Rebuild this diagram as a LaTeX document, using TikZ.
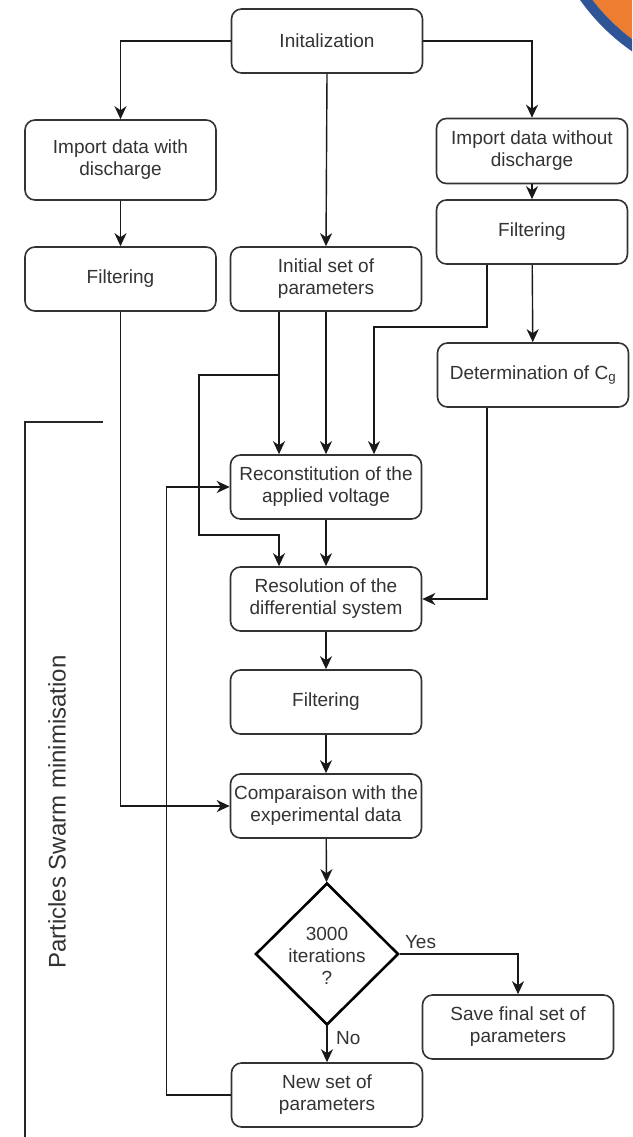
\documentclass[tikz,border=0pt]{standalone}
\usepackage{fontspec}
\setmainfont{Liberation Sans}
\usetikzlibrary{arrows.meta,shapes.geometric,calc}
\definecolor{arcorange}{HTML}{ED7D31}
\definecolor{arcblue}{HTML}{2F5597}
\definecolor{ink}{HTML}{333333}
\newcommand\boxfont{\fontsize{19}{22}\selectfont}
\tikzset{
  stepbox/.style={draw=ink, line width=1.6pt, rounded corners=10pt, minimum width=191pt,
    minimum height=64pt, align=center, font=\boxfont, text=ink, fill=white, inner sep=2pt},
  arr/.style={-{Stealth[length=13pt,width=12pt,inset=4pt]}, line width=1.4pt, draw=black!90},
  lbl/.style={font=\boxfont, text=ink, inner sep=1pt},
}
\begin{document}
\begin{tikzpicture}[x=1pt,y=-1pt]
\useasboundingbox (0,0) rectangle (632,1137);
\fill[white] (0,0) rectangle (632,1137);
% corner decoration
\begin{scope}
\clip (0,0) rectangle (632,1137);
\fill[arcorange] (750,-120) circle (198pt);
\draw[arcblue, line width=10pt] (750,-120) circle (203pt);
\end{scope}

% nodes
\node[stepbox] (init) at (327,41) {Initalization};
\node[stepbox, minimum height=80pt] (impw) at (120.5,160) {Import data with\\discharge};
\node[stepbox] (filtL) at (120.5,279) {Filtering};
\node[stepbox] (initset) at (326,279) {Initial set of\\parameters};
\node[stepbox, minimum height=65pt] (impwo) at (532,151) {Import data without\\discharge};
\node[stepbox] (filtR) at (532,232) {Filtering};
\node[stepbox] (detC) at (533,375) {Determination of C\textsubscript{g}};
\node[stepbox] (recon) at (326,487) {Reconstitution of the\\applied voltage};
\node[stepbox] (resol) at (326,599) {Resolution of the\\differential system};
\node[stepbox] (filtM) at (326,702) {Filtering};
\node[stepbox] (comp) at (326,806) {Comparaison with the\\experimental data};
\node[diamond, draw=black, line width=2.6pt, minimum width=143pt, minimum height=142pt, inner sep=0pt] (dec) at (327,954) {};
\node[lbl, align=center] (dectxt) at ([yshift=-2pt]dec.center) {3000\\iterations\\?};
\node[stepbox] (save) at (518,1027) {Save final set of\\parameters};
\node[stepbox] (newp) at (327,1095) {New set of\\parameters};

% connectors
\draw[arr] (init.west) -| (impw.north);
\draw[arr] (init.east) -| (impwo.north);
\draw[arr] (init.south) -- (initset.north);
\draw[arr] (impw) -- (filtL);
\draw[arr] (impwo) -- (filtR);
\draw[arr] (filtR) -- (detC);
\draw[arr] (filtL.south) |- (comp.west);
\draw[arr] ([xshift=-47pt]initset.south) -- ([xshift=-47pt]recon.north);
\draw[arr] (initset) -- (recon);
\coordinate (j1) at (279,375);
\draw[arr] (j1) -- (199,375) -- (199,535) -- (279,535) -- ([xshift=-47pt]resol.north);
\draw[arr] ([xshift=-45pt]filtR.south) -- (487,327) -- (374,327) -- ([xshift=48pt]recon.north);
\draw[arr] ([xshift=-46pt]detC.south) |- (resol.east);
\draw[arr] (recon) -- (resol);
\draw[arr] (resol) -- (filtM);
\draw[arr] (filtM) -- (comp);
\draw[arr] (comp) -- (dec);
\draw[arr] (dec.east) -| (save.north);
\node[lbl, anchor=south west] (yes) at ([xshift=4pt,yshift=4pt]dec.east) {Yes};
\draw[arr] (dec.south) -- (newp.north);
\node[lbl, anchor=west] (no) at ([xshift=8pt,yshift=-12pt]dec.south) {No};
\draw[arr] (newp.west) -- ++(-64,0) |- (recon.west);

% bracket
\coordinate (bt) at (103,422);
\draw[line width=2.6pt, draw=black!85] (bt) -- (25,422) -- (25,1140);
\node[rotate=90, font=\fontsize{24}{28}\selectfont, text=ink] (psm) at (57,812) {Particles Swarm minimisation};
\end{tikzpicture}
\end{document}
